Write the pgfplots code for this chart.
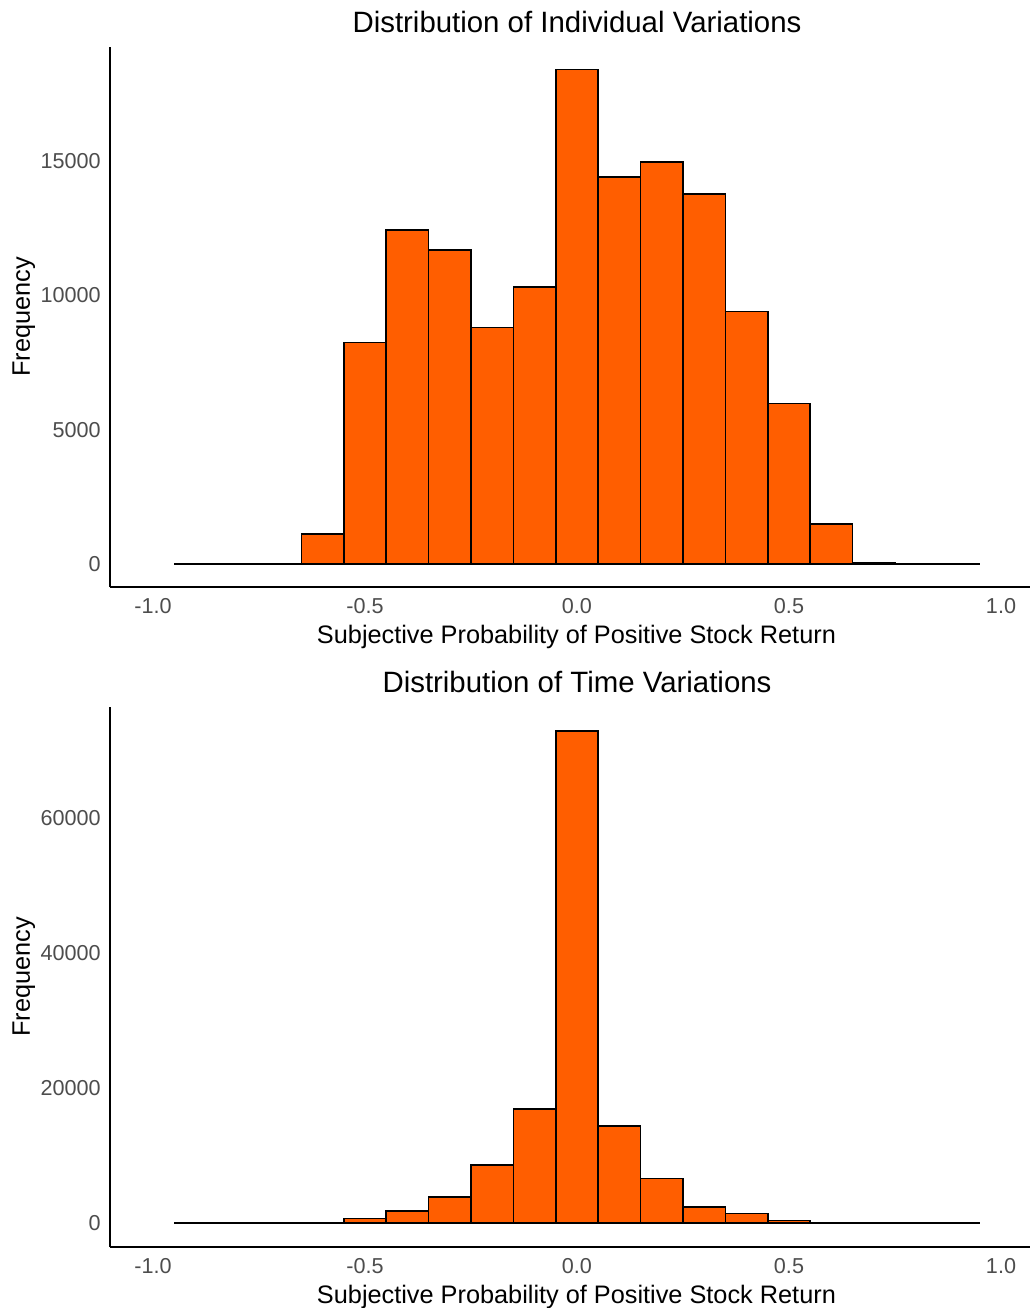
\documentclass[border=0pt]{standalone}
\usepackage{pgfplots}
\pgfplotsset{compat=1.18}
\usepackage{fontspec}
\setmainfont{Liberation Sans}
\definecolor{barfill}{RGB}{255,94,0}
\definecolor{tickgray}{RGB}{77,77,77}
\pgfplotsset{
  histstyle/.style={
    width=460pt, height=270pt, scale only axis,
    axis x line*=bottom, axis y line*=left,
    axis line style={black, line width=0.7pt, -},
    major tick length=0pt,
    xmin=-1.1014, xmax=1.0684,
    xtick={-1,-0.5,0,0.5,1},
    xticklabels={-1.0,-0.5,0.0,0.5,1.0},
    scaled y ticks=false,
    /pgf/number format/assume math mode=true,
    tick label style={font=\fontsize{10.8}{12}\selectfont, text=tickgray},
    xticklabel style={anchor=base, yshift=-13pt},
    yticklabel style={anchor=east, xshift=-4.5pt+0.333em},
    clip=false,
  },
  barstyle/.style={ybar interval, fill=barfill, draw=black, line width=0.8pt},
}
\begin{document}
\begin{tikzpicture}
\useasboundingbox (-55pt,-360.5pt) rectangle (461pt,293.5pt);
\begin{axis}[histstyle, at={(0pt,0pt)}, anchor=south west,
  ymin=-856, ymax=19241,
  ytick={0,5000,10000,15000}, yticklabels={0,5000,10000,15000}]
\addplot[barstyle] coordinates {
(-0.95,0) (-0.85,0) (-0.75,0) (-0.65,1120) (-0.55,8250) (-0.45,12420)
(-0.35,11680) (-0.25,8800) (-0.15,10300) (-0.05,18400) (0.05,14400)
(0.15,14960) (0.25,13770) (0.35,9400) (0.45,5970) (0.55,1490)
(0.65,40) (0.75,0) (0.85,0) (0.95,0)};
\node[anchor=base, yshift=7.5pt, font=\fontsize{14.7}{16}\selectfont] at (rel axis cs:0.5076,1) {Distribution of Individual Variations};
\node[anchor=base, yshift=-28pt, font=\fontsize{12.65}{14}\selectfont] at (rel axis cs:0.507,0) {Subjective Probability of Positive Stock Return};
\node[xshift=-40pt, anchor=base, rotate=90, font=\fontsize{12.65}{14}\selectfont] at (rel axis cs:0,0.5) {Frequency};
\end{axis}
\begin{axis}[histstyle, at={(0pt,-330pt)}, anchor=south west,
  ymin=-3556, ymax=76444,
  ytick={0,20000,40000,60000}, yticklabels={0,20000,40000,60000}]
\addplot[barstyle] coordinates {
(-0.95,0) (-0.85,0) (-0.75,0) (-0.65,0) (-0.55,660) (-0.45,1740)
(-0.35,3880) (-0.25,8560) (-0.15,16890) (-0.05,72890) (0.05,14370)
(0.15,6620) (0.25,2370) (0.35,1430) (0.45,400) (0.55,0)
(0.65,0) (0.75,0) (0.85,0) (0.95,0)};
\node[anchor=base, yshift=7.5pt, font=\fontsize{14.7}{16}\selectfont] at (rel axis cs:0.5076,1) {Distribution of Time Variations};
\node[anchor=base, yshift=-28pt, font=\fontsize{12.65}{14}\selectfont] at (rel axis cs:0.507,0) {Subjective Probability of Positive Stock Return};
\node[xshift=-40pt, anchor=base, rotate=90, font=\fontsize{12.65}{14}\selectfont] at (rel axis cs:0,0.5) {Frequency};
\end{axis}
\end{tikzpicture}
\end{document}
